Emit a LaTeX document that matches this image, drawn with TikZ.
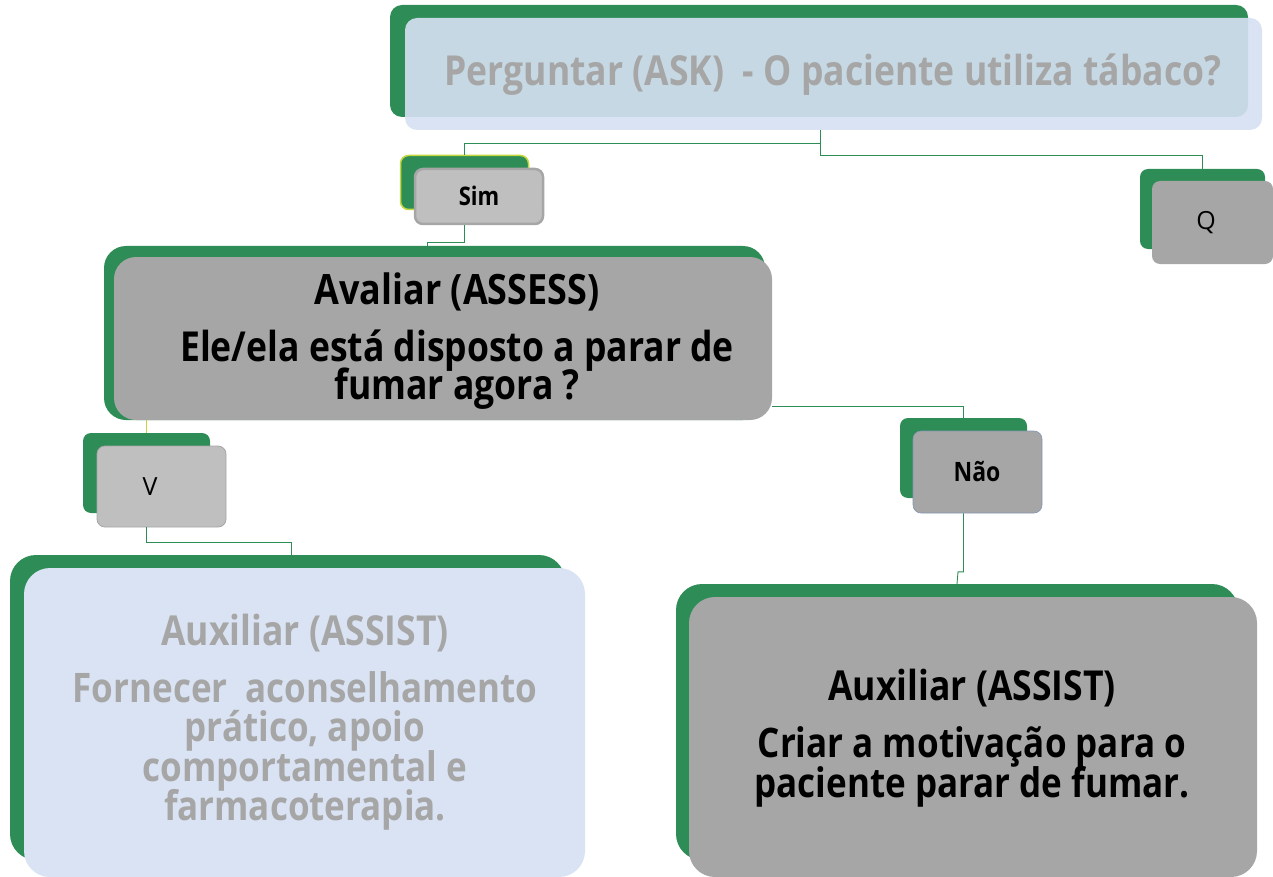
\documentclass[tikz,border=0pt]{standalone}
\usepackage{fontspec}
\setmainfont{Open Sans}[BoldFont={Open Sans Bold}, BoldFeatures={FakeStretch=0.86}]
\usetikzlibrary{calc}
\definecolor{grn}{RGB}{46,140,86}
\definecolor{lav}{RGB}{218,227,243}
\definecolor{lavt}{RGB}{214,224,242}
\definecolor{gtxt}{RGB}{166,166,166}
\definecolor{gdark}{RGB}{166,166,166}
\definecolor{glight}{RGB}{191,191,191}
\definecolor{ygrn}{RGB}{196,216,62}
\definecolor{bgray}{RGB}{132,151,176}
\newcommand{\tightlines}{\setlength{\lineskiplimit}{-50pt}}
\tikzset{
  backbox/.style={fill=grn, draw=none, rounded corners=#1, inner sep=0pt},
  backbox/.default=10pt,
  frontbox/.style={rounded corners=#1, inner sep=0pt},
  frontbox/.default=10pt,
  conn/.style={draw=grn, line width=0.9pt},
  yconn/.style={draw=ygrn, line width=0.9pt},
  bigtxt/.style={align=center, font=\bfseries\fontsize{41.3}{38}\selectfont\tightlines, inner sep=0pt},
}
\begin{document}
\begin{tikzpicture}[x=1pt,y=-1pt]
\useasboundingbox (0,0) rectangle (1273,877);

% ASK
\node[backbox=12pt, minimum width=858pt, minimum height=112pt] (askb) at (819,61) {};
\node[frontbox=12pt, fill=lavt, fill opacity=0.91, minimum width=857pt, minimum height=112pt] (askf) at (833.5,74) {};
\node[bigtxt, text=gtxt, font=\bfseries\fontsize{41.3}{44}\selectfont] (askt) at (833,75) {Perguntar (ASK)\ \ - O paciente utiliza tábaco?};
\coordinate (askout) at (820,130);

% Sim
\node[backbox=8pt, draw=ygrn, line width=1.5pt, minimum width=128pt, minimum height=54pt] (simb) at (464.5,182.5) {};
\node[frontbox=8pt, fill=glight, draw=gdark, line width=2.5pt, minimum width=128pt, minimum height=55pt] (simf) at (479,196.5) {};
\node[font=\bfseries\fontsize{25.6}{28}\selectfont] (simt) at (479,196) {Sim};

% Q
\node[backbox=8pt, minimum width=125pt, minimum height=80pt] (qb) at (1202.5,209) {};
\node[frontbox=8pt, fill=gdark, minimum width=121pt, minimum height=83pt] (qf) at (1212.5,222.5) {};
\node[font=\fontsize{25}{28}\selectfont] (qt) at (1206,223) {Q};

% Avaliar
\node[backbox=22pt, minimum width=661pt, minimum height=174pt] (avb) at (434.5,333) {};
\node[frontbox=22pt, fill=gdark, minimum width=658pt, minimum height=163pt] (avf) at (443,338.5) {};
\node[bigtxt, font=\bfseries\fontsize{41.8}{44}\selectfont] (avt1) at (457,292) {Avaliar (ASSESS)};
\node[bigtxt] (avt2) at (457,370) {Ele/ela está disposto a parar de\\fumar agora ?};

% V
\node[backbox=8pt, minimum width=127pt, minimum height=80pt] (vb) at (146.5,473) {};
\node[frontbox=8pt, fill=glight, draw=gdark, line width=0.8pt, minimum width=129pt, minimum height=81pt] (vf) at (161.5,486.5) {};
\node[font=\fontsize{25}{28}\selectfont] (vt) at (150,487) {V};

% Nao
\node[backbox=8pt, minimum width=127pt, minimum height=80pt] (nb) at (963.5,458) {};
\node[frontbox=8pt, fill=gdark, draw=bgray, line width=0.6pt, minimum width=129pt, minimum height=82pt] (nf) at (977.5,472) {};
\node[font=\bfseries\fontsize{26.7}{30}\selectfont] (nt) at (977,472) {Não};

% Auxiliar left
\node[backbox=26pt, minimum width=555pt, minimum height=305pt] (alb) at (287.5,707.5) {};
\node[frontbox=26pt, fill=lav, minimum width=561pt, minimum height=309pt] (alf) at (304.5,722.5) {};
\node[bigtxt, text=gtxt, font=\bfseries\fontsize{41.3}{44}\selectfont] (alt1) at (305,633) {Auxiliar (ASSIST)};
\node[bigtxt, text=gtxt, font=\bfseries\fontsize{40.7}{39.5}\selectfont\tightlines] (alt2) at (305,751) {Fornecer\ \ aconselhamento\\prático, apoio\\comportamental e\\farmacoterapia.};

% Auxiliar right
\node[backbox=26pt, minimum width=562pt, minimum height=276pt] (arb) at (957,722) {};
\node[frontbox=26pt, fill=gdark, minimum width=568pt, minimum height=280pt] (arf) at (973,737) {};
\node[bigtxt, font=\bfseries\fontsize{41.3}{44}\selectfont] (art1) at (972,688) {Auxiliar (ASSIST)};
\node[bigtxt, font=\bfseries\fontsize{40.7}{40}\selectfont\tightlines] (art2) at (972,767) {Criar a motivação para o\\paciente parar de fumar.};

% connectors
\draw[conn] (askout) -- (820,143) -| (simb.north);
\draw[conn] (askout) -- (820,155) -| (qb.north);
\draw[conn] (simf.south -| simb.south) |- ($(avb.north west)+(324,-3)$) -- ($(avb.north west)+(324,0)$);
\draw[yconn] (avf.south -| vb.north) -- (vb.north);
\draw[conn] ($(avf.south east)+(0,-14)$) -| (nb.north);
\draw[conn] (vf.south -| vb.south) |- ($(alb.north)+(3.5,-12)$) -- ($(alb.north)+(3.5,0)$);
\draw[conn] (nf.south -| nb.south) |- ($(arb.north)+(1,-12)$) -- (arb.north);
\end{tikzpicture}
\end{document}
